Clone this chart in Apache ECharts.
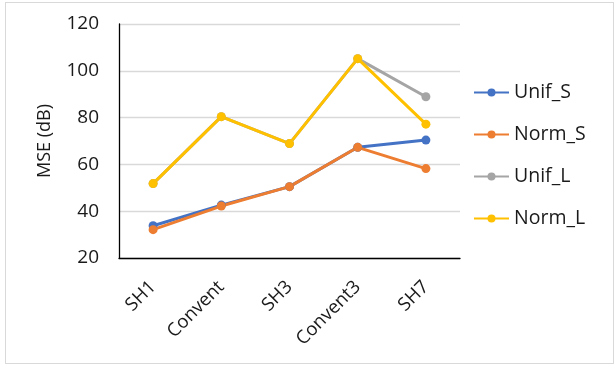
<!DOCTYPE html>
<html>
<head>
<meta charset="utf-8">
<script src="https://cdn.jsdelivr.net/npm/echarts@6/dist/echarts.min.js"></script>
<style>
  html, body { margin: 0; padding: 0; background: #fff; }
  #frame { position: absolute; left: 5px; top: 2px; width: 609px; height: 362px; border: 1px solid #d9d9d9; box-sizing: border-box; }
  #chart { position: absolute; left: 0; top: 0; width: 616px; height: 369px; }
</style>
</head>
<body>
<div id="frame"></div>
<div id="chart"></div>
<script>
// categories and values
var categories = ['SH1', 'Convent', 'SH3', 'Convent3', 'SH7'];
var unifS = [33.8, 42.6, 50.5, 67.3, 70.4];
var normS = [32.1, 42.2, 50.5, 67.3, 58.2];
var unifL = [51.8, 80.4, 68.9, 105.2, 88.9];
var normL = [51.8, 80.4, 68.9, 105.2, 77.2];
var seriesNames = ['Unif_S', 'Norm_S', 'Unif_L', 'Norm_L'];
var seriesColors = ['#4472C4', '#ED7D31', '#A5A5A5', '#FFC000'];

var font = 'Open Sans';

function makeLine(name, data, color) {
  return {
    name: name,
    type: 'line',
    data: data,
    symbol: 'circle',
    symbolSize: 9,
    color: color,
    lineStyle: { width: 3, color: color },
    itemStyle: { color: color },
    emphasis: { disabled: true }
  };
}

var chart = echarts.init(document.getElementById('chart'));
chart.setOption({
  backgroundColor: 'transparent',
  animation: false,
  grid: { left: 119, right: 156, top: 24, bottom: 111 },
  legend: {
    orient: 'vertical',
    left: 468,
    top: 77,
    itemWidth: 35,
    itemHeight: 10,
    itemGap: 21,
    data: seriesNames,
    textStyle: { fontFamily: font, fontSize: 19.5, color: '#1a1a1a', lineHeight: 21 }
  },
  xAxis: {
    type: 'category',
    data: categories,
    boundaryGap: true,
    axisLine: { lineStyle: { color: '#000', width: 1.3 } },
    axisTick: { alignWithLabel: true, length: 5, lineStyle: { color: '#000', width: 1.3 } },
    axisLabel: {
      rotate: 45,
      margin: 26,
      interval: 0,
      fontFamily: font,
      fontSize: 18.5,
      color: '#1a1a1a'
    }
  },
  yAxis: {
    type: 'value',
    min: 20,
    max: 120,
    interval: 20,
    name: 'MSE (dB)',
    nameLocation: 'middle',
    nameGap: 65,
    nameRotate: 90,
    nameTextStyle: { fontFamily: font, fontSize: 18, color: '#1a1a1a' },
    axisLine: { show: true, lineStyle: { color: '#000', width: 1.3 } },
    axisTick: { show: false },
    axisLabel: { margin: 20, fontFamily: font, fontSize: 19, color: '#1a1a1a' },
    splitLine: { lineStyle: { color: '#d9d9d9', width: 1.3 } }
  },
  series: [
    makeLine(seriesNames[0], unifS, seriesColors[0]),
    makeLine(seriesNames[1], normS, seriesColors[1]),
    makeLine(seriesNames[2], unifL, seriesColors[2]),
    makeLine(seriesNames[3], normL, seriesColors[3])
  ]
});
</script>
</body>
</html>
